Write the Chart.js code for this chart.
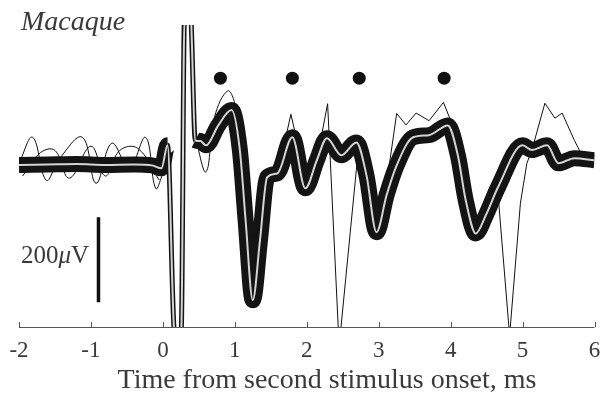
<!DOCTYPE html>
<html>
<head>
<meta charset="utf-8">
<script src="https://cdn.jsdelivr.net/npm/chart.js@4.4.1/dist/chart.umd.min.js"></script>
<style>
  html, body { margin: 0; padding: 0; background: #fff; }
  #wrap { width: 601px; height: 396px; position: relative; }
</style>
</head>
<body>
<div id="wrap"><canvas id="chart"></canvas></div>
<script>
// mean response (ms, µV)
const meanT = [-2, -1.6, -1.2, -0.8, -0.4, -0.15, -0.02, 0.065, 0.16, 0.21, 0.257, 0.30, 0.39, 0.395, 0.45, 0.52, 0.60, 0.77, 0.955, 1.07, 1.15, 1.25, 1.35, 1.45, 1.59, 1.80, 1.98, 2.14, 2.28, 2.48, 2.69, 2.83, 2.97, 3.11, 3.25, 3.48, 3.70, 3.96, 4.10, 4.21, 4.35, 4.49, 4.66, 5.00, 5.13, 5.34, 5.50, 5.72, 6.0];
const meanV = [-4, -3, -2, -4, -3, -5, -12, 42, -400, -420, -385, 340, 340, 325, 54, 52, 42, 89, 125, 31, -134, -322, -181, -33, -24, 61, -59, 7, 59, 19, 49, -28, -162, -75, -5, 61, 66, 89, 19, -87, -165, -122, -56, 42, 31, 42, 0, 12, 7];

// single trials that leave the bundle
const noiseT = [-2, -1.81, -1.62, -1.44, -1.12, -0.93, -0.71, -0.47, -0.24, -0.10, 0.01];
const noiseV = [0, 61, -40, 10, 61, -47, 47, -10, 61, -59, -20];
const noise2T = [-1.95, -1.7, -1.5, -1.3, -1.0, -0.8, -0.6, -0.35, -0.05];
const noise2V = [-30, 25, 30, -35, 40, -30, 30, 35, -40];
const earlyT = [0.45, 0.60, 0.72, 0.90, 1.00, 1.10];
const earlyV = [60, -20, 110, 170, 140, 30];
const dipAT = [1.60, 1.78, 2.00, 2.20, 2.29, 2.45, 2.71, 2.85, 3.00];
const dipAV = [-20, 115, -50, 60, 140, -430, 20, -30, -150];
const highT = [3.10, 3.25, 3.38, 3.52, 3.70, 3.90, 4.05, 4.20];
const highV = [-60, 117, 90, 118, 100, 143, 80, -80];
const dipBT = [4.49, 4.66, 4.82, 4.97, 5.06, 5.13, 5.31, 5.45, 5.55, 5.72, 5.86];
const dipBV = [-120, -75, -405, -94, 0, 31, 141, 106, 118, 54, 7];

// peaks marked with dots
const peakT = [0.80, 1.80, 2.73, 3.91];
const peakV = [200, 200, 200, 200];

// 200 µV scale bar
const barT = [-0.895, -0.895];
const barV = [-127, -327];

const xTicks = [-2, -1, 0, 1, 2, 3, 4, 5, 6];
const tickLabels = ['-2', '-1', '0', '1', '2', '3', '4', '5', '6'];

const pts = (t, v) => t.map((x, i) => ({ x: x, y: v[i] }));
const trial = (t, v, smooth) => ({
  data: pts(t, v), borderColor: '#111', borderWidth: 1, pointRadius: 0,
  tension: smooth ? 0.4 : 0, order: 3, clip: 0
});

const SERIF = '"Liberation Serif", serif';

const decor = {
  id: 'decor',
  afterDraw(chart) {
    const { ctx, chartArea } = chart;
    const xs = chart.scales.x;
    ctx.save();
    // axis line and inward ticks
    ctx.strokeStyle = '#555';
    ctx.lineWidth = 1;
    ctx.beginPath();
    ctx.moveTo(chartArea.left, chartArea.bottom + 0.5);
    ctx.lineTo(chartArea.right, chartArea.bottom + 0.5);
    xTicks.forEach(t => {
      const px = Math.round(xs.getPixelForValue(t)) + 0.5;
      ctx.moveTo(px, chartArea.bottom);
      ctx.lineTo(px, chartArea.bottom - 5);
    });
    ctx.stroke();

    ctx.fillStyle = '#3a3a3a';
    ctx.textBaseline = 'alphabetic';
    ctx.textAlign = 'center';
    ctx.font = '23px ' + SERIF;
    xTicks.forEach((t, i) => ctx.fillText(tickLabels[i], xs.getPixelForValue(t), 357));

    ctx.font = '28px ' + SERIF;
    ctx.fillText('Time from second stimulus onset, ms', 327, 388);

    ctx.textAlign = 'left';
    ctx.font = 'italic 28px ' + SERIF;
    ctx.fillText('Macaque', 21, 30);

    // scale bar label
    const y = 263;
    let x = 21;
    ctx.font = '25px ' + SERIF;
    ctx.fillText('200', x, y);
    x += ctx.measureText('200').width;
    ctx.font = 'italic 25px ' + SERIF;
    ctx.fillText('\u03bc', x, y);
    x += ctx.measureText('\u03bc').width;
    ctx.font = '25px ' + SERIF;
    ctx.fillText('V', x, y);
    ctx.restore();
  }
};

new Chart(document.getElementById('chart'), {
  type: 'line',
  data: {
    datasets: [
      {
        data: pts(meanT, meanV), borderColor: '#d4d4d4', borderWidth: 2,
        pointRadius: 0, cubicInterpolationMode: 'monotone', order: 0, clip: 0
      },
      {
        data: pts(peakT, peakV), showLine: false, pointRadius: 6.5,
        pointBackgroundColor: '#111', pointBorderWidth: 0, order: 0
      },
      {
        data: pts(barT, barV), borderColor: '#111', borderWidth: 3.5,
        pointRadius: 0, order: 0, clip: false
      },
      {
        data: pts(meanT, meanV), borderColor: '#141414', borderWidth: 16,
        pointRadius: 0, cubicInterpolationMode: 'monotone', order: 1, clip: 0,
        borderJoinStyle: 'round',
        segment: {
          borderWidth: c => (c.p1.parsed.x > 0.1 && c.p0.parsed.x < 0.44) ? 5 : 16
        }
      },
      trial(noiseT, noiseV, true),
      trial(noise2T, noise2V, true),
      trial(earlyT, earlyV, true),
      trial(dipAT, dipAV, false),
      trial(highT, highV, false),
      trial(dipBT, dipBV, false)
    ]
  },
  options: {
    responsive: true,
    maintainAspectRatio: false,
    animation: false,
    layout: { padding: { left: 19, right: 1, top: 25, bottom: 69 } },
    plugins: { legend: { display: false }, tooltip: { enabled: false } },
    scales: {
      x: { type: 'linear', min: -2, max: 6, display: false },
      y: { type: 'linear', min: -385, max: 325, display: false }
    }
  },
  plugins: [decor]
});
</script>
</body>
</html>
